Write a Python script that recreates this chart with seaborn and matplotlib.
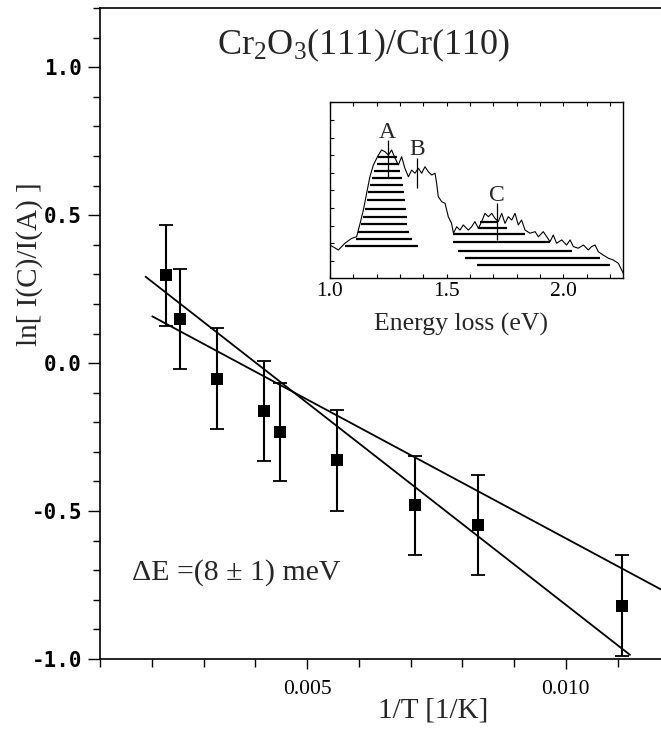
import numpy as np
import pandas as pd
import matplotlib
matplotlib.use("Agg")
import matplotlib.pyplot as plt
import seaborn as sns
from matplotlib.ticker import MultipleLocator, FixedLocator

# ---------------- data ----------------
inv_T = [0.00228, 0.00255, 0.00327, 0.00416, 0.00448, 0.00557, 0.00708, 0.00830, 0.01109]
ln_ratio = [0.297, 0.149, -0.053, -0.162, -0.232, -0.329, -0.480, -0.546, -0.820]
ln_err = [0.17, 0.17, 0.17, 0.17, 0.165, 0.17, 0.167, 0.169, 0.17]

fit1_x = [0.00188, 0.01124]
fit1_y = [0.292, -0.986]
fit2_x = [0.00201, 0.01200]
fit2_y = [0.158, -0.780]

x_ticks = [0.005, 0.010]
x_ticklabels = ["0.005", "0.010"]
y_ticks = [-1.0, -0.5, 0.0, 0.5, 1.0]
y_ticklabels = ["-1.0", "-0.5", "0.0", "0.5", "1.0"]

# inset spectrum (energy loss in eV, intensity arb. units)
spec_E = [1.000, 1.036, 1.064, 1.093, 1.114, 1.129, 1.143, 1.157, 1.171, 1.186, 1.207,
          1.221, 1.236, 1.250, 1.264, 1.279, 1.293, 1.307, 1.321, 1.336, 1.350, 1.364,
          1.379, 1.393, 1.407, 1.421, 1.436, 1.450, 1.457, 1.464, 1.479, 1.493, 1.507,
          1.521, 1.529, 1.543, 1.557, 1.571, 1.593, 1.607, 1.621, 1.636, 1.650, 1.664,
          1.679, 1.693, 1.707, 1.721, 1.736, 1.750, 1.764, 1.779, 1.793, 1.807, 1.821,
          1.836, 1.857, 1.879, 1.893, 1.914, 1.929, 1.943, 1.957, 1.971, 1.993, 2.014,
          2.029, 2.043, 2.064, 2.086, 2.107, 2.121, 2.136, 2.150, 2.171, 2.193, 2.214,
          2.236, 2.250, 2.257]
spec_I = [0.189, 0.161, 0.199, 0.227, 0.236, 0.312, 0.388, 0.483, 0.577, 0.644, 0.700,
          0.729, 0.719, 0.700, 0.729, 0.682, 0.644, 0.691, 0.625, 0.577, 0.615, 0.597,
          0.625, 0.597, 0.634, 0.606, 0.587, 0.597, 0.540, 0.464, 0.435, 0.426, 0.350,
          0.312, 0.256, 0.293, 0.274, 0.303, 0.274, 0.293, 0.322, 0.284, 0.322, 0.369,
          0.350, 0.369, 0.341, 0.322, 0.369, 0.312, 0.350, 0.331, 0.369, 0.303, 0.331,
          0.274, 0.256, 0.265, 0.236, 0.265, 0.236, 0.208, 0.246, 0.199, 0.218, 0.189,
          0.218, 0.180, 0.171, 0.189, 0.161, 0.180, 0.189, 0.151, 0.132, 0.114, 0.104,
          0.085, 0.047, 0.028]

hatchA_y = [0.689, 0.650, 0.607, 0.570, 0.532, 0.489, 0.444, 0.395, 0.349, 0.306, 0.264, 0.226, 0.183]
hatchA_left = [1.207, 1.200, 1.189, 1.179, 1.171, 1.164, 1.157, 1.150, 1.143, 1.132, 1.121, 1.111, 1.064]
hatchA_right = [1.286, 1.293, 1.300, 1.307, 1.311, 1.317, 1.321, 1.326, 1.329, 1.331, 1.340, 1.350, 1.376]

hatchC_y = [0.322, 0.284, 0.252, 0.205, 0.155, 0.114, 0.076]
hatchC_left = [1.643, 1.633, 1.527, 1.527, 1.548, 1.579, 1.630]
hatchC_right = [1.714, 1.757, 1.836, 1.943, 2.036, 2.157, 2.200]

peak_labels = ["A", "B", "C"]
peak_E = [1.247, 1.374, 1.714]
peak_lo = [0.568, 0.511, 0.218]
peak_hi = [0.786, 0.682, 0.426]
peak_text_y = [0.826, 0.729, 0.468]

inset_ticks = [1.0, 1.5, 2.0]
inset_ticklabels = ["1.0", "1.5", "2.0"]

# ---------------- style ----------------
sns.set_theme(style="white")
plt.rcParams.update({
    "font.family": ["Liberation Serif", "DejaVu Serif"],
    "mathtext.fontset": "custom",
    "mathtext.rm": "Liberation Serif",
    "mathtext.it": "Liberation Serif:italic",
    "axes.edgecolor": "black",
    "axes.linewidth": 1.2,
    "xtick.color": "black",
    "ytick.color": "black",
})

W, H = 661, 731
fig = plt.figure(figsize=(W / 100, H / 100), dpi=100)
fig.patch.set_facecolor("white")

# main axes (right edge runs slightly past the figure edge, like the cropped original)
AXW = 669.3 - 100
AXH = 659 - 8
ax = fig.add_axes([100 / W, 1 - 659 / H, AXW / W, AXH / H])
ax.set_xlim(0.001, 0.012)
ax.set_ylim(-1.0, 1.2)

ax.errorbar(inv_T, ln_ratio, yerr=ln_err, fmt="none", ecolor="black",
            elinewidth=1.5, capsize=5, capthick=1.3, zorder=2)
sns.scatterplot(x=inv_T, y=ln_ratio, marker="s", s=65, color="black",
                edgecolor="black", linewidth=0, ax=ax, zorder=3, legend=False)
sns.lineplot(x=fit1_x, y=fit1_y, color="black", linewidth=1.3, ax=ax,
             estimator=None, sort=False, zorder=2)
sns.lineplot(x=fit2_x, y=fit2_y, color="black", linewidth=1.3, ax=ax,
             estimator=None, sort=False, zorder=2)

for s in ["left", "bottom", "top", "right"]:
    ax.spines[s].set_visible(True)
    ax.spines[s].set_color("black")
    ax.spines[s].set_linewidth(1.2)

ax.xaxis.set_major_locator(FixedLocator(x_ticks))
ax.set_xticklabels(x_ticklabels, fontsize=15.5, family="Liberation Serif")
ax.xaxis.set_minor_locator(MultipleLocator(0.001))
ax.yaxis.set_major_locator(FixedLocator(y_ticks))
ax.set_yticklabels(y_ticklabels, fontsize=15, family="DejaVu Sans Mono", fontweight="bold")
ax.yaxis.set_minor_locator(MultipleLocator(0.1))
ax.tick_params(axis="x", which="both", direction="out", bottom=True, top=False, pad=8)
ax.tick_params(axis="x", which="major", length=7, width=1.0)
ax.tick_params(axis="x", which="minor", length=6, width=1.0)
ax.tick_params(axis="y", which="both", direction="out", left=True, right=False, pad=4)
ax.tick_params(axis="y", which="major", length=9, width=1.0)
ax.tick_params(axis="y", which="minor", length=5, width=1.0)

ax.set_xlabel("1/T [1/K]", fontsize=21, family="Liberation Serif")
ax.xaxis.set_label_coords((433 - 100) / AXW, (659 - 697) / AXH)
ax.set_ylabel("ln[ I(C)/I(A) ]", fontsize=21, family="Liberation Serif")
ax.yaxis.set_label_coords((43 - 100) / AXW, (659 - 264) / AXH)

ax.text((132 - 100) / AXW, (659 - 573) / AXH, "ΔE =(8 ± 1) meV", transform=ax.transAxes,
        fontsize=21.5, family="Liberation Serif", ha="left", va="center")

fig.text(363 / W, 1 - 45 / H, r"Cr$_2$O$_3$(111)/Cr(110)", fontsize=26,
         ha="center", va="center", family="Liberation Serif")

# inset
IL, IB, IW, IH = 330, 278.3, 293.3, 176
ins = fig.add_axes([IL / W, 1 - IB / H, IW / W, IH / H])
ins.set_xlim(1.0, 2.257)
ins.set_ylim(0, 1)
sns.lineplot(x=spec_E, y=spec_I, color="black", linewidth=0.8, ax=ins,
             estimator=None, sort=False)
ins.hlines(hatchA_y, hatchA_left, hatchA_right, colors="black", linewidth=1.6)
ins.hlines(hatchC_y, hatchC_left, hatchC_right, colors="black", linewidth=1.6)
ins.vlines(peak_E, peak_lo, peak_hi, colors="black", linewidth=0.9)
for lab, e, ty in zip(peak_labels, peak_E, peak_text_y):
    ins.text(e, ty, lab, fontsize=17, family="Liberation Serif", ha="center", va="center")
for s in ins.spines.values():
    s.set_visible(True)
    s.set_color("black")
    s.set_linewidth(1.0)
ins.xaxis.set_major_locator(FixedLocator(inset_ticks))
ins.set_xticklabels(inset_ticklabels, fontsize=15.5, family="Liberation Serif")
ins.xaxis.set_minor_locator(MultipleLocator(0.1))
ins.yaxis.set_minor_locator(MultipleLocator(0.1))
ins.set_yticks([0.2, 0.4, 0.6, 0.8])
ins.set_yticklabels([])
ins.tick_params(axis="both", which="both", direction="in", top=True, bottom=True,
                left=True, right=False, length=3, width=0.8, pad=3)
ins.set_xlabel("Energy loss (eV)", fontsize=18.5, family="Liberation Serif")
ins.xaxis.set_label_coords((461 - IL) / IW, (IB - 313) / IH)
ins.set_ylabel("")
ins.patch.set_alpha(0)

fig.savefig("out.png", dpi=100, facecolor="white")
